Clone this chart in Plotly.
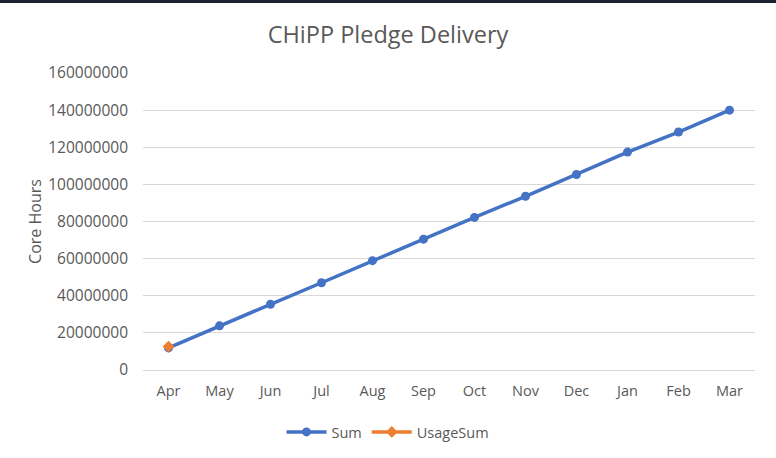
import plotly.graph_objects as go

months = ["Apr", "May", "Jun", "Jul", "Aug", "Sep", "Oct", "Nov", "Dec", "Jan", "Feb", "Mar"]
sum_values = [11900000, 23800000, 35400000, 47000000, 58900000, 70500000,
              82200000, 93600000, 105300000, 117400000, 128200000, 140000000]
usage_months = ["Apr"]
usage_values = [12600000]
y_ticks = [0, 20000000, 40000000, 60000000, 80000000, 100000000, 120000000, 140000000, 160000000]

FONT = "Open Sans"
GRAY = "#595959"

fig = go.Figure()
fig.add_trace(go.Scatter(
    x=months, y=sum_values, name="Sum", mode="lines+markers",
    line=dict(color="#4472C4", width=3.5),
    marker=dict(symbol="circle", size=9, color="#4472C4"),
))
fig.add_trace(go.Scatter(
    x=usage_months, y=usage_values, name="UsageSum", mode="lines+markers",
    line=dict(color="#ED7D31", width=3.5),
    marker=dict(symbol="diamond", size=9, color="#ED7D31"),
))

fig.update_layout(
    width=776, height=458,
    margin=dict(l=143, r=21, t=73, b=88),
    paper_bgcolor="white", plot_bgcolor="white",
    font=dict(family=FONT, color=GRAY, size=14),
    title=dict(text="CHiPP Pledge Delivery", x=0.5, xanchor="center",
               y=1 - 35 / 458, yanchor="middle", xref="container",
               font=dict(family=FONT, size=23.5, color=GRAY)),
    showlegend=True,
    legend=dict(orientation="h", x=0.5, xanchor="center", xref="container",
                y=1 - 432 / 458, yanchor="middle", yref="container",
                font=dict(family=FONT, size=14.5, color=GRAY), itemwidth=40),
    xaxis=dict(type="category", categoryorder="array", categoryarray=months,
               showgrid=False, showline=True, linecolor="#D9D9D9", linewidth=1,
               ticks="", tickfont=dict(family=FONT, size=14.5, color=GRAY),
               ticklabelstandoff=8,
               range=[-0.5, 11.5]),
    yaxis=dict(range=[0, 160000000], tickvals=y_ticks,
               ticktext=[str(v) for v in y_ticks],
               showgrid=True, gridcolor="#D9D9D9", gridwidth=1,
               zeroline=False, showline=False, ticks="",
               tickfont=dict(family=FONT, size=15.5, color=GRAY),
               ticklabelstandoff=14,
               title=dict(text="Core Hours", font=dict(family=FONT, size=16, color=GRAY),
                          standoff=2)),
    shapes=[dict(type="rect", xref="paper", yref="paper",
                 x0=-143 / 612, x1=(612 + 21) / 612,
                 y0=1 + 70 / 297, y1=1 + 74 / 297,
                 fillcolor="#1B2333", line=dict(width=0), layer="above")],
)

fig.write_html("out.html", config={"displayModeBar": False},
               post_script="document.body.style.margin='0';")
